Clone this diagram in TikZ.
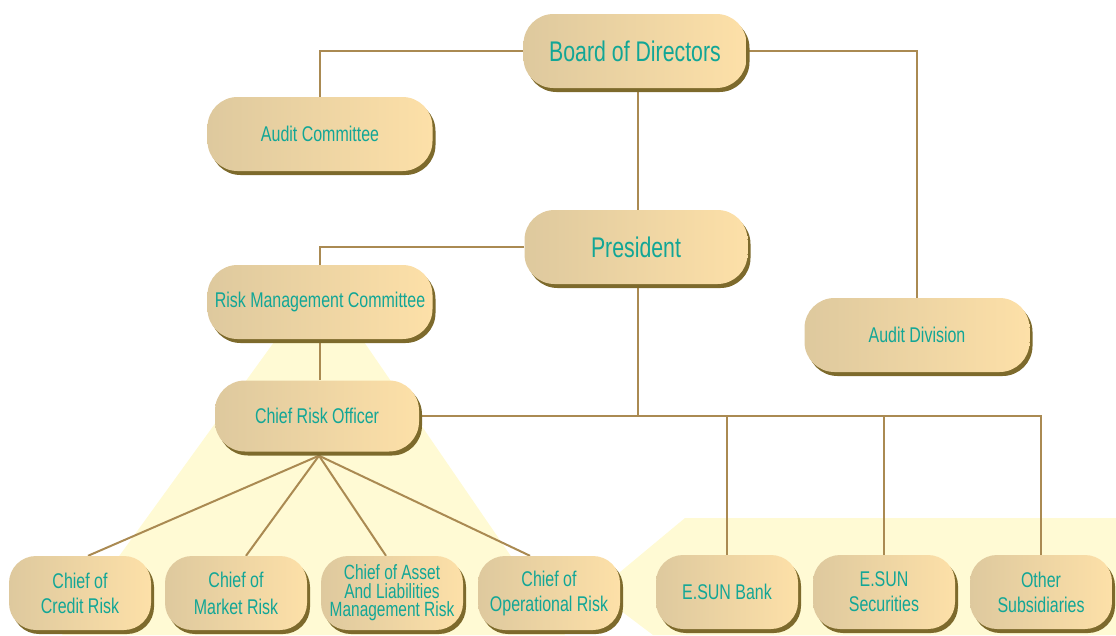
\documentclass[tikz,border=0pt]{standalone}
\usepackage{xcolor}
\usepackage{fontspec}
\setmainfont{Liberation Sans}[FakeStretch=0.75]
\usetikzlibrary{shadows,backgrounds}
\definecolor{boxl}{RGB}{222,201,158}
\definecolor{boxm}{RGB}{251,228,206}
\definecolor{boxr}{RGB}{253,224,168}
\definecolor{shad}{RGB}{125,106,44}
\definecolor{txt}{RGB}{18,166,150}
\definecolor{conn}{RGB}{170,138,82}
\definecolor{glow}{RGB}{255,250,212}

\begin{document}
\begin{tikzpicture}[x=1pt,y=-1pt,
  box/.style={rectangle,rounded corners=30pt,inner sep=0pt,align=center,text=txt,
    left color=boxl,middle color=boxm,right color=boxr,
    drop shadow={shadow xshift=3pt,shadow yshift=-4pt,fill=shad,opacity=1},
    font=\fontsize{21.3}{25}\selectfont},
  bigbox/.style={box,minimum width=223pt,minimum height=74pt},
  midbox/.style={box,minimum width=225pt,minimum height=74pt},
  lowbox/.style={box,rounded corners=27pt,minimum width=142pt,minimum height=74pt},
  big/.style={font=\fontsize{28.4}{34}\selectfont},
  line/.style={draw=conn,line width=2pt}]
\useasboundingbox (0,0) rectangle (1116,635);
\node[bigbox,big] (bod) at (635,51) {Board of Directors};
\node[midbox] (ac) at (320,134) {Audit Committee};
\node[bigbox,big] (pres) at (636,247) {President};
\node[midbox] (rmc) at (320,302) {Risk Management Committee};
\node[midbox] (ad) at (917,335) {Audit Division};
\node[box,minimum width=204pt,minimum height=71pt] (cro) at (317,416) {Chief Risk Officer};
\node[lowbox] (cr) at (80,593) {Chief of\\Credit Risk};
\node[lowbox,font=\fontsize{21.3}{27}\selectfont] (mr) at (236,593) {Chief of\\Market Risk};
\node[lowbox,font=\fontsize{20.6}{18.6}\selectfont] (alm) at (392,593) {Chief of Asset\\And Liabilities\\Management Risk};
\node[lowbox] (opr) at (549,593) {Chief of\\Operational Risk};
\node[lowbox] (bank) at (727,592) {E.SUN Bank};
\node[lowbox] (sec) at (884,592) {E.SUN\\Securities};
\node[lowbox] (oth) at (1041,592) {Other\\Subsidiaries};
\begin{scope}[on background layer]
\fill[glow] (290,320) -- (349,320) -- (565,635) -- (62,635) -- cycle;
\fill[glow] (596,592) -- (685,518) -- (1116,518) -- (1116,635) -- (653,635) -- cycle;
\draw[line] (bod.west) -| (ac.north);
\draw[line] (bod.east) -| (ad.north);
\draw[line] ([xshift=3pt]bod.south) -- ([xshift=3pt]bod.south |- pres.north);
\draw[line] (pres.west) -| (rmc.north);
\draw[line] (rmc.south) -- (rmc.south |- cro.north);
\draw[line] ([xshift=2pt]pres.south) -- ([xshift=2pt]pres.south |- cro.east);
\draw[line] (cro.east) -| (oth.north);
\draw[line] (bank.north) |- (cro.east);
\draw[line] (sec.north) |- (cro.east);
\draw[line] ([xshift=2pt,yshift=-4pt]cro.south) -- ([xshift=8pt]cr.north);
\draw[line] ([xshift=2pt,yshift=-4pt]cro.south) -- ([xshift=10pt]mr.north);
\draw[line] ([xshift=2pt,yshift=-4pt]cro.south) -- ([xshift=-6pt]alm.north);
\draw[line] ([xshift=2pt,yshift=-4pt]cro.south) -- ([xshift=-19pt]opr.north);
\end{scope}
\end{tikzpicture}
\end{document}
